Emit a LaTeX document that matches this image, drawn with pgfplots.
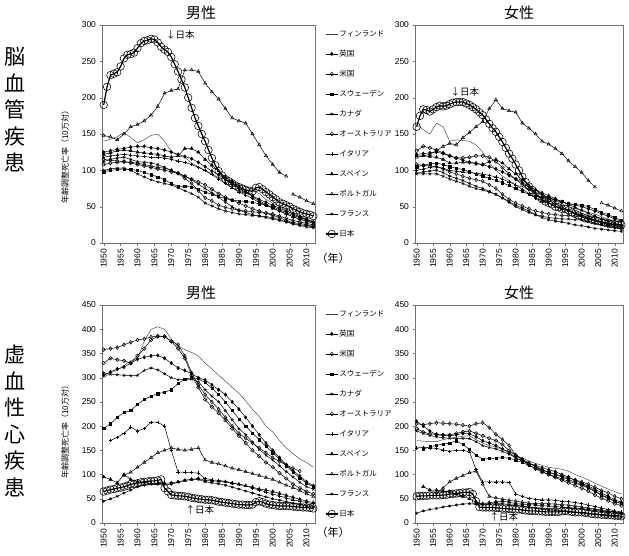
\documentclass[border=0pt]{standalone}
\usepackage{pgfplots}
\pgfplotsset{compat=1.18}
\usepackage{pgfplotstable}
\usepackage{fontspec}
\setmainfont{Liberation Sans}
\newfontfamily\jp{Noto Sans CJK JP}

% columns: year, Finland, UK, USA, Sweden, Canada, Australia, Italy, Spain, Portugal, France
\pgfplotstableread{
yr   fi  uk  us  se  ca  au  it  es  pt  fr
1950 140 125 115  98 100 108 118 122 148 112
1952 143 127 114 100 102 110 120 124 146 115
1954 146 129 113 101 103 111 121 127 142 117
1956 152 130 112 102 103 112 122 128 150 118
1958 145 132 111 101 100 110 121 127 160 115
1960 138 133 110 100  95 108 120 125 163 112
1962 142 133 108  97  91 106 119 124 168 111
1964 148 131 106  94  87 104 118 123 176 110
1966 150 130 104  91  84 102 118 122 188 108
1968 140 128 103  87  82 100 117 120 206 104
1970 126 125 100  82  80  98 115 118 210 100
1972 120 122  96  78  76  96 113 120 212  96
1974 118 119  89  78  72  92 111 130 238  92
1976 110 116  82  77  68  88 108 130 238  87
1978 105 111  72  74  63  84 104 125 236  81
1980 100 105  62  70  55  80 100 115 220  75
1982  95  99  58  67  51  74  94 107 208  69
1984  90  94  52  64  47  68  88  99 198  63
1986  88  87  49  61  44  63  82  91 185  56
1988  84  81  47  59  42  59  76  85 172  50
1990  80  75  45  58  40  55  70  78 168  45
1992  78  70  44  57  39  51  66  71 165  42
1994  72  65  43  56  38  47  61  64 150  39
1996  68  60  42  54  37  44  56  58 135  37
1998  60  56  41  52  36  41  52  53 120  35
2000  55  52  40  50  35  38  48  48 108  33
2002  50  48  37  46  32  35  44  44  97  31
2004  45  44  34  42  29  31  40  40  92  29
2005 nan nan nan nan nan nan nan nan nan nan
2006  40  40  31  38  26  28  36  36  67  27
2008  36  36  29  35  24  27  33  33  63  25
2010  33  32  27  32  22  25  30  30  58  24
2012  30  29  25  29  21  23  28  27  54  22
}\strokeM

\pgfplotstableread{
yr   fi  uk  us  se  ca  au  it  es  pt  fr
1950 163 122 108 105  95 127 100 120 118  96
1952 156 123 107 107  95 133 102 120 120  98
1954 150 124 106 109  95 131 104 119 122  99
1956 165 125 105 110  95 128 105 118 127 100
1958 160 123 102 108  92 124 103 115 133  97
1960 140 120  98 105  88 120 100 110 137  92
1962 142 117  95 103  85 117  99 110 135  89
1964 141 114  92 101  82 117  98 111 145  86
1966 140 111  89  98  78 118  97 111 152  82
1968 135 109  87  95  75 120  96 110 160  78
1970 125 108  85  92  73 120  95 108 167  75
1972 110 105  80  89  70 118  93 112 185  71
1974 100 102  75  86  67 112  91 115 197  67
1976  92  98  67  83  62 104  88 110 185  62
1978  86  93  60  79  56  95  84 102 182  57
1980  80  88  55  75  50  88  80  95 180  52
1982  77  83  51  71  46  80  74  87 165  48
1984  74  78  47  67  42  74  68  79 158  44
1986  70  73  44  64  39  67  62  73 150  39
1988  66  67  42  63  37  62  58  69 140  35
1990  62  62  40  62  35  58  55  65 136  32
1992  58  59  39  60  34  54  51  61 130  30
1994  54  56  38  57  33  49  47  57 123  29
1996  50  54  38  54  33  45  44  53 113  27
1998  47  52  37  53  32  41  41  49 105  25
2000  45  50  37  52  32  38  38  45  97  24
2002  42  47  34  50  30  35  35  41  86  22
2004  40  44  31  46  27  31  32  37  77  20
2005 nan nan nan nan nan nan nan nan nan nan
2006  36  40  29  42  25  28  28  33  55  19
2008  33  37  27  39  23  25  26  30  52  18
2010  30  33  25  35  21  22  24  27  48  17
2012  28  30  23  31  20  20  22  25  44  16
}\strokeF

\pgfplotstableread{
yr   fi  uk  us  se  ca  au  it  es  pt  fr
1950 300 305 358 195 310 330 nan  95 nan  45
1952 310 312 360 205 307 340 170  90 nan  50
1954 315 318 362 218 306 337 177  83 nan  55
1956 325 322 368 228 305 335 185 100  98  62
1958 335 330 373 232 304 330 198  90 105  68
1960 340 338 378 245 305 345 190  85 115  75
1962 375 342 380 255 315 360 195  84 125  78
1964 400 345 384 262 320 378 208  82 135  80
1966 405 346 386 267 316 385 208  82 145  80
1968 400 340 385 270 308 385 200  82 150  80
1970 380 330 375 275 300 375 150  83 155  80
1972 365 320 368 288 296 360 105  85 152  84
1974 358 315 345 297 296 340 105  88 150  88
1976 352 308 310 300 297 305 104  90 152  90
1978 345 300 285 298 292 280 103  92 155  90
1980 330 295 265 290 275 255  92  88 130  85
1982 318 285 250 278 262 240  89  87 125  83
1984 305 275 235 265 250 227  88  86 122  81
1986 293 265 218 250 232 212  86  85 118  78
1988 280 250 200 232 213 195  83  82 113  74
1990 268 235 185 215 195 180  80  80 110  70
1992 252 218 175 200 182 165  77  77 106  66
1994 235 200 165 186 167 150  72  74 102  62
1996 220 182 155 172 152 138  68  70  98  58
1998 200 165 145 158 140 125  64  68  94  54
2000 188 150 135 145 130 115  60  65  90  50
2002 170 135 127 132 118 103  56  61  84  47
2004 155 120 120 118 106  92  52  57  78  44
2006 143 108 113 105  95  80  48  53  73  41
2008 132  97 107  93  84  72  45  49  67  38
2010 125  85 nan  82  75  65  42  45  60  35
2012 115  77 nan  75  70  60  40  42  55  33
}\ihdM

\pgfplotstableread{
yr   fi  uk  us  se  ca  au  it  es  pt  fr
1950 170 210 205 nan 190 195 155 nan nan  20
1952 169 200 203 152 185 188 156  75 nan  25
1954 168 190 205 158 181 184 155  68 nan  28
1956 168 182 207 160 178 183 154  68  62  30
1958 172 181 206 163 176 182 151  66  72  33
1960 175 180 205 165 175 182 148  65  85  35
1962 177 182 204 170 174 185 150  60  92  37
1964 179 185 202 162 175 188 150  55  98  39
1966 180 184 200 152 174 190 147  50 104  40
1968 172 178 205 140 168 185 110  43 107  39
1970 165 170 207 132 160 180  85  40  80  38
1972 160 165 197 133 156 175  85  42  55  39
1974 157 160 183 134 153 170  85  44  52  40
1976 152 153 172 135 148 162  85  45  49  40
1978 147 145 160 134 142 150  84  43  47  38
1980 140 135 140 130 135 140  60  40  45  37
1982 134 128 132 125 128 130  55  39  43  35
1984 128 123 124 119 123 120  51  38  41  33
1986 123 119 117 113 117 112  49  37  40  31
1988 119 114 110 108 107 105  48  36  40  29
1990 115 110 105 105 100 100  48  35  40  27
1992 113 106 101 100  96  94  47  34  39  26
1994 111 100  97  95  91  88  45  33  38  25
1996 107  95  93  90  86  83  44  32  37  23
1998 100  88  89  84  82  77  42  31  35  22
2000  95  82  85  80  78  72  40  30  33  20
2002  89  76  80  74  72  66  37  28  31  19
2004  82  70  74  66  65  58  34  26  29  18
2006  76  62  67  58  57  51  31  24  27  16
2008  70  55  62  52  51  46  28  22  25  15
2010  65  48  55  45  45  40  25  20  23  13
2012  60  43  50  40  40  36  23  19  21  12
}\ihdF

% Japan, every year: stroke male/female, ischaemic heart disease male/female
\pgfplotstableread{
yr   sm  sf  im  jf
1950 190 160 65 55
1951 215 175 67 56
1952 231 184 69 56
1953 233 183 70 56
1954 235 181 72 57
1955 243 184 73 57
1956 254 187 75 57
1957 259 189 77 57
1958 260 188 80 58
1959 262 189 81 58
1960 268 191 82 60
1961 275 193 84 60
1962 278 194 85 61
1963 279 194 86 62
1964 281 194 87 63
1965 280 192 87 63
1966 276 190 88 64
1967 270 187 90 60
1968 266 184 72 45
1969 263 180 65 33
1970 256 176 58 32
1971 246 170 57 32
1972 236 164 56 32
1973 225 158 56 32
1974 214 153 55 31
1975 200 146 54 31
1976 186 139 52 30
1977 172 131 51 30
1978 161 123 50 29
1979 150 116 49 29
1980 140 108 48 28
1981 128 100 48 28
1982 117  91 47 27
1983 107  84 46 26
1984  99  78 44 25
1985  93  73 43 25
1986  88  68 42 25
1987  85  64 41 24
1988  82  60 40 24
1989  79  57 39 23
1990  77  55 38 23
1991  75  53 38 23
1992  73  50 37 23
1993  72  49 37 23
1994  71  47 38 24
1995  76  47 43 25
1996  77  45 45 24
1997  74  42 43 23
1998  70  40 40 22
1999  67  38 38 22
2000  63  36 37 22
2001  60  34 36 21
2002  56  33 35 20
2003  54  32 35 19
2004  52  31 35 18
2005  50  30 35 18
2006  47  29 34 17
2007  45  28 33 17
2008  43  27 33 16
2009  41  26 32 16
2010  40  26 32 15
2011  39  25 31 15
2012  37  25 30 14
}\japan

\pgfplotsset{
  s-fi/.style={black!75, line width=0.45pt, no markers},
  s-uk/.style={black, mark=diamond*, mark size=1.7pt},
  s-us/.style={black, mark=diamond, mark size=1.9pt, mark options={fill=white}},
  s-se/.style={black, mark=square*, mark size=1.1pt},
  s-ca/.style={black, mark=star, mark size=1.7pt},
  s-au/.style={black, mark=o, mark size=1.8pt, mark options={fill=white}},
  s-it/.style={black, mark=+, mark size=1.7pt},
  s-es/.style={black, mark=triangle*, mark size=1.8pt},
  s-pt/.style={black, mark=triangle, mark size=1.8pt, mark options={fill=white}, unbounded coords=jump},
  s-fr/.style={black, mark=asterisk, mark size=1.6pt},
  s-jp/.style={black, line width=1.2pt, mark=o, mark size=3.8pt, mark options={fill=white, line width=0.55pt}},
  panel/.style={
    scale only axis, height=218pt,
    xmin=1949.5, xmax=2012.5, ymin=0,
    xtick={1950,1955,...,2010},
    /pgf/number format/assume math mode=true,
    /pgf/number format/1000 sep={},
    x tick label style={rotate=90, anchor=east, font=\fontsize{8.5}{9}\selectfont},
    y tick label style={font=\fontsize{8.5}{9}\selectfont},
    tick align=outside, major tick length=2.5pt,
    xtick pos=bottom, ytick pos=left,
    axis line style={black!55}, tick style={black!55},
    every axis plot/.append style={line width=0.5pt},
    clip=false,
  },
  legstyle/.style={
    legend style={draw=none, fill=none, inner sep=0pt,
      at={(1,1)}, anchor=north west, xshift=10pt, yshift=-4pt,
      font=\jp\fontsize{7.5}{8}\selectfont, row sep=10.5pt,
      nodes={text height=6pt, text depth=1.5pt, inner sep=1pt}},
    legend cell align=left,
    legend image code/.code={%
      \draw[mark repeat=2, mark phase=2, ##1] plot coordinates {(0pt,0pt) (6pt,0pt) (12pt,0pt)};},
  },
}

% #1: table of the panel, #2: column of the Japan table
\newcommand\allseries[2]{%
  \addplot[s-fi] table[x=yr, y=fi]{#1};
  \addplot[s-uk] table[x=yr, y=uk]{#1};
  \addplot[s-us] table[x=yr, y=us]{#1};
  \addplot[s-se] table[x=yr, y=se]{#1};
  \addplot[s-ca] table[x=yr, y=ca]{#1};
  \addplot[s-au] table[x=yr, y=au]{#1};
  \addplot[s-it] table[x=yr, y=it]{#1};
  \addplot[s-es] table[x=yr, y=es]{#1};
  \addplot[s-pt] table[x=yr, y=pt]{#1};
  \addplot[s-fr] table[x=yr, y=fr]{#1};
  \addplot[s-jp] table[x=yr, y=#2]{\japan};
}
\newcommand\countries{\legend{フィンランド,英国,米国,スウェーデン,カナダ,オーストラリア,イタリア,スペイン,ポルトガル,フランス,日本}}

\begin{document}
\begin{tikzpicture}
\useasboundingbox (0pt,0pt) rectangle (629pt,-555pt);

% row labels
\node[font=\jp\fontsize{21}{26.5}\selectfont, align=center] at (15pt,-110pt) {脳\\血\\管\\疾\\患};
\node[font=\jp\fontsize{21}{26.5}\selectfont, align=center] at (15pt,-421pt) {虚\\血\\性\\心\\疾\\患};

% column titles
\foreach \yy in {-13pt,-293pt} {
  \node[font=\jp\fontsize{15}{16}\selectfont] at (201pt,\yy) {男性};
  \node[font=\jp\fontsize{15}{16}\selectfont] at (519pt,\yy) {女性};
}

% y-axis captions and year unit
\node[rotate=90, font=\jp\fontsize{8}{9}\selectfont] at (65pt,-155pt) {年齢調整死亡率（10万対）};
\node[rotate=90, font=\jp\fontsize{8}{9}\selectfont] at (65pt,-430pt) {年齢調整死亡率（10万対）};
\node[anchor=west, font=\jp\fontsize{11}{12}\selectfont] at (313pt,-258pt) {（年）};
\node[anchor=west, font=\jp\fontsize{11}{12}\selectfont] at (313pt,-532pt) {（年）};

% cerebrovascular disease, male
\begin{axis}[panel, legstyle, at={(102pt,-243pt)}, anchor=south west, width=213pt,
  ymax=300, ytick={0,50,...,300}]
  \allseries{\strokeM}{sm}
  \countries
  \node[anchor=west, font=\jp\fontsize{9.5}{10}\selectfont] at (axis cs:1967.4,286) {↓日本};
\end{axis}

% cerebrovascular disease, female
\begin{axis}[panel, at={(415pt,-243pt)}, anchor=south west, width=208pt,
  ymax=300, ytick={0,50,...,300}]
  \allseries{\strokeF}{sf}
  \node[anchor=west, font=\jp\fontsize{9.5}{10}\selectfont] at (axis cs:1959.2,208) {↓日本};
\end{axis}

% ischaemic heart disease, male
\begin{axis}[panel, legstyle, at={(102pt,-523pt)}, anchor=south west, width=213pt,
  ymax=450, ytick={0,50,...,450}]
  \allseries{\ihdM}{im}
  \countries
  \node[anchor=west, font=\jp\fontsize{9.5}{10}\selectfont] at (axis cs:1973.2,27) {↑日本};
\end{axis}

% ischaemic heart disease, female
\begin{axis}[panel, at={(415pt,-523pt)}, anchor=south west, width=208pt,
  ymax=450, ytick={0,50,...,450}]
  \allseries{\ihdF}{jf}
  \node[anchor=west, font=\jp\fontsize{9.5}{10}\selectfont] at (axis cs:1971.0,12) {↑日本};
\end{axis}
\end{tikzpicture}
\end{document}
